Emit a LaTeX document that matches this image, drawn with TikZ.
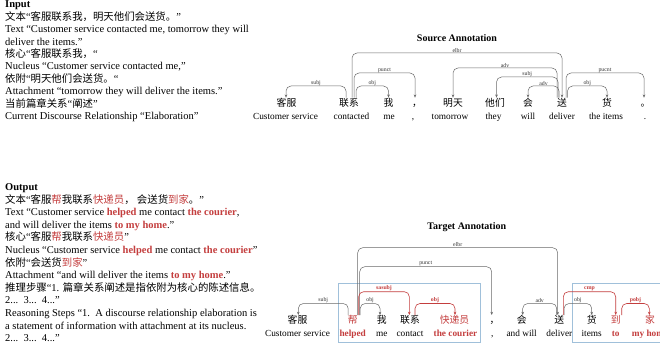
\documentclass[tikz,border=0pt]{standalone}
\usepackage{fontspec}
\setmainfont{Liberation Serif}
\newfontfamily\cjk{Noto Sans CJK SC}
\usetikzlibrary{arrows.meta,calc}
\definecolor{myred}{RGB}{196,62,62}
\definecolor{arcgray}{RGB}{105,105,105}
\definecolor{boxblue}{RGB}{160,192,218}
\newcommand\zh{\cjk\fontsize{10.4}{12.6}\selectfont}
\newcommand\zw{\cjk\fontsize{9.8}{12}\selectfont}
\newcommand\hl[1]{\textbf{\textcolor{myred}{#1}}}
\newcommand\zhl[1]{\textcolor{myred}{#1}}
% style suffix, from node, dx1, to node, dx2, ytop, label
\newcommand\deparc[7]{%
  \draw[dep#1] let \p1=([xshift=#3pt]#2.north), \p2=([xshift=#5pt]#4.north) in
    (\p1) -- (\x1,-#6pt) -- node[lab#1]{#7} (\x2,-#6pt) -- (\p2);}
\tikzset{
  txt/.style={anchor=base west, inner sep=0pt, font=\fontsize{10.5}{12.6}\selectfont},
  hd/.style={anchor=base west, inner sep=0pt, font=\fontsize{10.5}{12.6}\selectfont\bfseries},
  ttl/.style={inner sep=0pt, font=\fontsize{10}{12}\selectfont\bfseries},
  cw/.style={anchor=base, inner sep=0pt, font=\zw, text height=8.6pt, text depth=1.2pt},
  ew/.style={anchor=base, inner sep=0pt, font=\fontsize{9.3}{11}\selectfont},
  ewr/.style={ew, text=myred, font=\fontsize{9.3}{11}\selectfont\bfseries},
  depbase/.style={-{Stealth[length=3.2pt,width=2.6pt]}, rounded corners=5pt, line width=0.5pt},
  depg/.style={depbase, draw=arcgray},
  depr/.style={depbase, draw=myred, line width=0.6pt},
  labg/.style={anchor=south, inner sep=0.4pt, font=\fontsize{5.8}{6}\selectfont, text=black!80},
  labr/.style={anchor=south, inner sep=0.4pt, font=\fontsize{5.8}{6}\selectfont\bfseries, text=myred},
  bbox/.style={draw=boxblue, line width=0.7pt}
}
\begin{document}
\begin{tikzpicture}[x=1pt,y=-1pt]
\useasboundingbox (0,0) rectangle (660,347);
\fill[white] (0,0) rectangle (660,347);

% ---------- Input text ----------
\node[hd] (i0) at (5,8) {Input};
\node[txt] (i1) at (5,20.4) {{\zh 文本}“{\zh 客服联系我，明天他们会送货。}”};
\node[txt] (i2) at (5,32.8) {Text “Customer service contacted me, tomorrow they will};
\node[txt] (i3) at (5,45.2) {deliver the items.”};
\node[txt] (i4) at (5,57.6) {{\zh 核心}“{\zh 客服联系我，}“};
\node[txt] (i5) at (5,70) {Nucleus “Customer service contacted me,”};
\node[txt] (i6) at (5,82.4) {{\zh 依附}“{\zh 明天他们会送货。}“};
\node[txt] (i7) at (5,94.8) {Attachment “tomorrow they will deliver the items.”};
\node[txt] (i8) at (5,107.2) {{\zh 当前篇章关系}“{\zh 阐述}”};
\node[txt] (i9) at (5,119.6) {Current Discourse Relationship “Elaboration”};

% ---------- Output text ----------
\node[hd] (o0) at (5,190.5) {Output};
\node[txt] (o1) at (5,203.1) {{\zh 文本}“{\zh 客服\zhl{帮}我联系\zhl{快递员}， 会送货\zhl{到家}。}”};
\node[txt] (o2) at (5,215.7) {Text “Customer service \hl{helped} me contact \hl{the courier},};
\node[txt] (o3) at (5,228.3) {and will deliver the items \hl{to my home}.”};
\node[txt] (o4) at (5,240.9) {{\zh 核心}“{\zh 客服\zhl{帮}我联系\zhl{快递员}}”};
\node[txt] (o5) at (5,253.5) {Nucleus “Customer service \hl{helped} me contact \hl{the courier}”};
\node[txt] (o6) at (5,266.1) {{\zh 依附}“{\zh 会送货\zhl{到家}}”};
\node[txt] (o7) at (5,278.7) {Attachment “and will deliver the items \hl{to my home}.”};
\node[txt] (o8) at (5,291.3) {{\zh 推理步骤}“1. {\zh 篇章关系阐述是指依附为核心的陈述信息。}};
\node[txt] (o9) at (5,303.9) {2...\ \ 3...\ \ 4...”};
\node[txt] (o10) at (5,316.5) {Reasoning Steps “1.\ \ A discourse relationship elaboration is};
\node[txt] (o11) at (5,329.1) {a statement of information with attachment at its nucleus.};
\node[txt] (o12) at (5,341.7) {2...\ \ 3...\ \ 4...”};

% ---------- Source annotation ----------
\node[ttl] (srct) at (457,38) {Source Annotation};
\node[cw] (s1) at (286.5,106.5) {客服};
\node[cw] (s2) at (349,106.5) {联系};
\node[cw] (s3) at (388.5,106.5) {我};
\node[cw] (s4) at (417,106.5) {，};
\node[cw] (s5) at (453,106.5) {明天};
\node[cw] (s6) at (495,106.5) {他们};
\node[cw] (s7) at (528,106.5) {会};
\node[cw] (s8) at (562,106.5) {送};
\node[cw] (s9) at (607,106.5) {货};
\node[cw] (s10) at (645.5,106.5) {。};
\node[ew] (e1) at (285.5,119.3) {Customer service};
\node[ew] (e2) at (351.5,119.3) {contacted};
\node[ew] (e3) at (389,119.3) {me};
\node[ew] (e4) at (413,119.3) {,};
\node[ew] (e5) at (450,119.3) {tomorrow};
\node[ew] (e6) at (493.5,119.3) {they};
\node[ew] (e7) at (528,119.3) {will};
\node[ew] (e8) at (562,119.3) {deliver};
\node[ew] (e9) at (606,119.3) {the items};
\node[ew] (e10) at (645,119.3) {.};

\deparc{g}{s2}{3}{s8}{0}{53}{elbr}
\deparc{g}{s8}{-5}{s5}{0}{68}{adv}
\deparc{g}{s2}{5}{s4}{-2}{73}{punct}
\deparc{g}{s8}{4}{s10}{-1.5}{73}{pucnt}
\deparc{g}{s8}{-4}{s6}{1.5}{77}{subj}
\deparc{g}{s2}{-3}{s1}{-0.5}{86}{subj}
\deparc{g}{s2}{7}{s3}{0}{86}{obj}
\deparc{g}{s8}{-3}{s7}{0}{86}{adv}
\deparc{g}{s8}{5.5}{s9}{0}{86}{obj}

% ---------- Target annotation ----------
\node[ttl] (tgtt) at (466.7,227.5) {Target Annotation};
\draw[bbox] (338.3,283.3) rectangle (480.7,342.7);
\draw[bbox] (572.7,283.3) rectangle (672,342.7);
\node[cw] (t1) at (297.5,323.8) {客服};
\node[cw, text=myred] (t2) at (352.7,323.8) {帮};
\node[cw] (t3) at (381.7,323.8) {我};
\node[cw] (t4) at (410,323.8) {联系};
\node[cw, text=myred] (t5) at (454.5,323.8) {快递员};
\node[cw] (t6) at (494.5,323.8) {，};
\node[cw] (t7) at (521.7,323.8) {会};
\node[cw] (t8) at (559.3,323.8) {送};
\node[cw] (t9) at (591.7,323.8) {货};
\node[cw, text=myred] (t10) at (615.7,323.8) {到};
\node[cw, text=myred] (t11) at (650,323.8) {家};
\node[ew] (f1) at (297.5,336) {Customer service};
\node[ewr] (f2) at (352.7,336) {helped};
\node[ew] (f3) at (381.7,336) {me};
\node[ew] (f4) at (410,336) {contact};
\node[ewr] (f5) at (455.5,336) {the courier};
\node[ew] (f6) at (492.3,336) {,};
\node[ew] (f7) at (521.7,336) {and will};
\node[ew] (f8) at (559.3,336) {deliver};
\node[ew] (f9) at (591.7,336) {items};
\node[ewr] (f10) at (615.7,336) {to};
\node[ewr] (f11) at (650,336) {my home};

\deparc{g}{t2}{5}{t8}{-1.6}{247.7}{elbr}
\deparc{g}{t2}{7}{t6}{-2.8}{266.7}{punct}
\deparc{r}{t2}{6}{t4}{-0.7}{291.7}{sasubj}
\deparc{g}{t2}{-4.5}{t1}{0.8}{303.5}{subj}
\deparc{g}{t2}{7.5}{t3}{-1.7}{303.5}{obj}
\deparc{r}{t4}{5}{t5}{0.5}{303.5}{obj}
\deparc{g}{t8}{-2.6}{t7}{1}{303.5}{adv}
\deparc{g}{t8}{4.7}{t9}{0}{303.5}{obj}
\deparc{r}{t8}{4}{t10}{0}{291.7}{cmp}
\deparc{r}{t10}{6}{t11}{-0.7}{303.5}{pobj}
\end{tikzpicture}
\end{document}
